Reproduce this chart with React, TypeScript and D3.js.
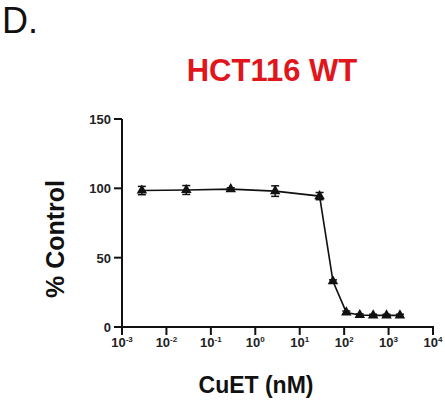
import * as d3 from 'd3';

// concentrations (nM) and response (% of control)
const CONC = [0.0028, 0.028, 0.28, 2.8, 28, 56, 112, 225, 450, 900, 1800];
const RESPONSE = [98.4, 98.8, 99.4, 98.0, 94.4, 33.0, 10.5, 8.6, 8.4, 8.4, 8.4];
const ERR = [3.0, 3.2, 1.0, 3.8, 2.6, 1.0, 1.0, 0.8, 0.8, 0.8, 0.8];
const X_TICKS = [-3, -2, -1, 0, 1, 2, 3, 4];
const Y_TICKS = [0, 50, 100, 150];

const W = 445;
const H = 401;
const FONT = '"Liberation Sans", Arial, sans-serif';
const INK = '#111';

export default function App() {
  const x = d3.scaleLog().domain([1e-3, 1e4]).range([122, 433]);
  const y = d3.scaleLinear().domain([0, 150]).range([327, 119]);

  const pts = CONC.map((c, i) => ({ c, v: RESPONSE[i], e: ERR[i] }));
  const line = d3
    .line<{ c: number; v: number }>()
    .x((d) => x(d.c))
    .y((d) => y(d.v));
  const tri = d3.symbol(d3.symbolTriangle, 48)()!;

  return (
    <svg
      width={W}
      height={H}
      style={{ position: 'absolute', left: 0, top: 0, background: '#fff' }}
      fontFamily={FONT}
    >
      <text x={2} y={33} fontSize={36} fill={INK}>
        D.
      </text>
      <text x={272} y={81} textAnchor="middle" fontSize={31} fontWeight="bold" fill="#e0161c">
        HCT116 WT
      </text>

      {/* y axis */}
      <line x1={x(1e-3)} x2={x(1e-3)} y1={y(150)} y2={y(0)} stroke={INK} strokeWidth={2} />
      {Y_TICKS.map((t) => (
        <g key={t}>
          <line x1={x(1e-3) - 8} x2={x(1e-3)} y1={y(t)} y2={y(t)} stroke={INK} strokeWidth={2} />
          <text
            x={x(1e-3) - 11}
            y={y(t) + 5}
            textAnchor="end"
            fontSize={13}
            fontWeight="bold"
            fill="#222"
          >
            {t}
          </text>
        </g>
      ))}
      <text
        transform={`translate(64,239) rotate(-90)`}
        textAnchor="middle"
        fontSize={25}
        fontWeight="bold"
        fill={INK}
      >
        % Control
      </text>

      {/* x axis */}
      <line x1={x(1e-3) - 1} x2={x(1e4) + 1} y1={y(0)} y2={y(0)} stroke={INK} strokeWidth={2} />
      {X_TICKS.map((p) => {
        const px = x(Math.pow(10, p));
        return (
          <g key={p}>
            <line x1={px} x2={px} y1={y(0)} y2={y(0) + 8} stroke={INK} strokeWidth={2} />
            <text x={px} y={347} textAnchor="middle" fontSize={13} fontWeight="bold" fill="#222">
              10
              <tspan dy={-5} fontSize={8}>
                {p}
              </tspan>
            </text>
          </g>
        );
      })}
      <text x={256} y={393} textAnchor="middle" fontSize={23} fontWeight="bold" fill={INK}>
        CuET (nM)
      </text>

      {/* data */}
      <path d={line(pts) ?? ''} fill="none" stroke={INK} strokeWidth={1.6} />
      {pts.map((d, i) => (
        <g key={i}>
          <line x1={x(d.c)} x2={x(d.c)} y1={y(d.v - d.e)} y2={y(d.v + d.e)} stroke={INK} strokeWidth={1.5} />
          <line x1={x(d.c) - 4} x2={x(d.c) + 4} y1={y(d.v + d.e)} y2={y(d.v + d.e)} stroke={INK} strokeWidth={1.5} />
          <line x1={x(d.c) - 4} x2={x(d.c) + 4} y1={y(d.v - d.e)} y2={y(d.v - d.e)} stroke={INK} strokeWidth={1.5} />
          <path d={tri} transform={`translate(${x(d.c)},${y(d.v)})`} fill={INK} />
        </g>
      ))}
    </svg>
  );
}
